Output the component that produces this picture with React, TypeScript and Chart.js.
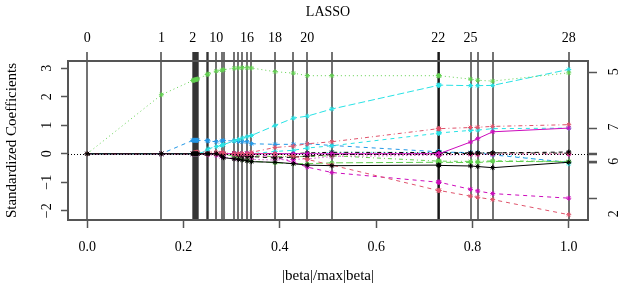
import React, { useEffect, useRef } from "react";
import { Chart, registerables } from "chart.js";
Chart.register(...registerables);

// breakpoints |beta|/max|beta| for steps 0..28
const steps = [0, 0.154, 0.219, 0.221, 0.223, 0.225, 0.227, 0.229, 0.249, 0.251, 0.268, 0.279, 0.283, 0.305, 0.314, 0.322, 0.332, 0.341, 0.39, 0.428, 0.457, 0.508, 0.729, 0.73, 0.731, 0.796, 0.811, 0.842, 1.0];
const shownStepLabels = ["0", "1", "2", "10", "16", "18", "20", "22", "25", "28"];
const xTicks = [0, 0.2, 0.4, 0.6, 0.8, 1.0];
const xTickLabels = ["0.0", "0.2", "0.4", "0.6", "0.8", "1.0"];
const yTicks = [-2, -1, 0, 1, 2, 3];
const yTickLabels = ["\u22122", "\u22121", "0", "1", "2", "3"];
const xMin = -0.04, xMax = 1.04, yMin = -2.327, yMax = 3.256;

// coefficient paths (one value per step)
const v3 = [0, 2.07, 2.57, 2.58, 2.59, 2.6, 2.61, 2.62, 2.78, 2.8, 2.9, 2.93, 2.95, 3.0, 3.01, 3.02, 3.02, 3.01, 2.88, 2.83, 2.74, 2.74, 2.74, 2.74, 2.74, 2.62, 2.58, 2.55, 2.84];
const v5 = [0, 0, 0, 0, 0, 0, 0, 0, 0.1, 0.17, 0.25, 0.29, 0.32, 0.45, 0.5, 0.55, 0.6, 0.64, 0.99, 1.25, 1.32, 1.57, 2.4, 2.4, 2.41, 2.39, 2.39, 2.4, 2.96];
const v22 = [0, 0, 0.47, 0.47, 0.47, 0.47, 0.47, 0.47, 0.46, 0.45, 0.42, 0.45, 0.46, 0.45, 0.43, 0.42, 0.42, 0.35, 0.33, 0.33, 0.35, 0.29, 0.07, 0.07, 0.06, 0.04, 0.03, -0.04, -0.3];
const v2 = [0, 0, 0, 0, 0, 0, 0, 0, 0, 0, 0, 0, 0, 0, 0, 0, 0, 0, 0, -0.08, -0.2, -0.4, -1.29, -1.29, -1.29, -1.49, -1.53, -1.61, -2.14];
const v12 = [0, 0, 0, 0, 0, 0, 0, 0, 0, 0, 0, 0, 0, 0, 0, 0, 0, 0, -0.12, -0.3, -0.47, -0.66, -1.0, -1.0, -1.0, -1.25, -1.31, -1.4, -1.56];
const v14 = [0, 0, 0, 0, 0, 0, 0, 0, 0, 0, 0, 0, 0, 0, 0, 0, 0, 0.05, 0.22, 0.27, 0.35, 0.42, 0.88, 0.88, 0.88, 0.92, 0.93, 0.96, 1.02];
const v17 = [0, 0, 0, 0, 0, 0, 0, 0, 0, 0, 0, 0, 0, 0, 0, 0, 0, 0, 0.08, 0.12, 0.2, 0.28, 0.72, 0.72, 0.73, 0.82, 0.83, 0.88, 0.9];
const v6 = [0, 0, 0, 0, 0, 0, 0, 0, 0, 0, 0, 0, 0, 0, 0, 0, 0, 0, 0, 0, 0, 0, 0, 0, 0, 0.41, 0.53, 0.77, 0.9];
const v1 = [0, 0, 0, 0, 0, 0, 0, 0, 0, 0, 0, -0.08, -0.14, -0.18, -0.2, -0.22, -0.25, -0.28, -0.3, -0.35, -0.4, -0.42, -0.4, -0.4, -0.41, -0.43, -0.45, -0.49, -0.3];
const v15 = [0, 0, 0, 0, 0, 0, 0, 0, 0, 0, 0, 0, 0, -0.1, -0.15, -0.2, -0.22, -0.26, -0.32, -0.35, -0.35, -0.32, -0.3, -0.3, -0.3, -0.31, -0.31, -0.27, -0.28];
const v9 = [0, 0, 0, 0, 0, 0, 0, 0, 0, 0, 0, 0, 0, 0, 0, 0, -0.04, -0.07, -0.1, -0.1, -0.1, -0.07, -0.26, -0.26, -0.26, -0.27, -0.27, -0.25, -0.27];
const v7 = [0, 0, 0, 0, 0, 0, 0, 0, 0, 0, 0, 0, 0, 0, -0.05, -0.08, -0.1, -0.1, -0.15, -0.12, -0.08, -0.03, 0.0, 0.0, 0.01, 0.01, 0.02, 0.03, 0.06];
const v18 = [0, 0, 0, 0, 0, 0, 0, 0, 0, -0.03, -0.06, -0.1, -0.12, -0.15, -0.17, -0.18, -0.2, -0.2, -0.22, -0.2, -0.18, -0.1, -0.05, -0.05, -0.05, -0.03, -0.03, -0.02, -0.02];
const v19 = [0, 0, 0, 0, 0, 0, 0, 0, 0, 0, 0, 0, 0, 0, 0, 0, 0, 0, 0, 0, 0.03, 0.05, 0.04, 0.04, 0.04, 0.03, 0.03, 0.03, 0.02];
const v23 = [0, 0, 0, 0, 0, 0, 0, 0, 0, 0, 0, 0, 0, 0, 0, 0, 0, 0, 0, 0, 0, 0.05, 0.05, 0.05, 0.05, 0.04, 0.04, 0.02, -0.35];
const v8 = [0, 0, 0, 0.02, 0.03, 0.04, 0.05, 0.05, 0.06, 0.06, 0.05, 0.04, 0.03, 0.0, -0.05, -0.07, -0.08, -0.1, -0.12, -0.1, -0.08, -0.05, -0.02, -0.02, -0.02, -0.01, -0.01, 0, 0];

const series = [v1, v2, v3, v5, v6, v7, v8, v9, v12, v14, v15, v17, v18, v19, v22, v23];
const seriesNames = ["1", "2", "3", "5", "6", "7", "8", "9", "12", "14", "15", "17", "18", "19", "22", "23"];
// labels that R kept on the right axis (others dropped for overlap)
const rightLabelFor: Record<string, string> = { "3": "5", "17": "7", "1": "6", "2": "2" };

const BLACK = "#000000", RED = "#DF536B", GREEN = "#61D04F", BLUE = "#2297E6", CYAN = "#28E2E5", MAGENTA = "#CD0BBC";
const SOLID: number[] = [], DASHED = [4, 4], DOTTED = [1, 3], DOTDASH = [1, 3, 4, 3], LONGDASH = [7, 3];
const seriesColors = [BLACK, RED, GREEN, CYAN, MAGENTA, BLACK, RED, GREEN, MAGENTA, RED, GREEN, CYAN, MAGENTA, BLACK, BLUE, CYAN];
const seriesDashes = [SOLID, DASHED, DOTTED, LONGDASH, SOLID, DASHED, DOTTED, DOTDASH, DASHED, DOTDASH, LONGDASH, DASHED, DOTTED, DOTDASH, DASHED, DOTTED];

const FONT = '"Liberation Serif", "DejaVu Serif", serif';

export default function App() {
  const ref = useRef<HTMLCanvasElement | null>(null);
  useEffect(() => {
    if (!ref.current) return;
    const finals = series.map((s) => s[s.length - 1]);
    const textPlugin = {
      id: "rtext",
      afterDatasetsDraw(chart: any) {
        const { ctx, chartArea, scales } = chart;
        ctx.save();
        ctx.strokeStyle = "#000";
        ctx.lineWidth = 1;
        ctx.setLineDash([1, 2]);
        const y0 = Math.round(scales.y.getPixelForValue(0)) + 0.5;
        ctx.beginPath();
        ctx.moveTo(chartArea.left, y0);
        ctx.lineTo(chartArea.right, y0);
        ctx.stroke();
        ctx.restore();
      },
      afterDraw(chart: any) {
        const { ctx, chartArea, scales } = chart;
        ctx.save();
        ctx.fillStyle = "#000";
        ctx.font = "14px " + FONT;
        ctx.textAlign = "center";
        ctx.textBaseline = "middle";
        const rot = (t: string, x: number, y: number) => {
          ctx.save();
          ctx.translate(x, y);
          ctx.rotate(-Math.PI / 2);
          ctx.fillText(t, 0, 0);
          ctx.restore();
        };
        yTicks.forEach((v, i) => rot(yTickLabels[i], chartArea.left - 21, scales.y.getPixelForValue(v)));
        seriesNames.forEach((n, i) => {
          const lab = rightLabelFor[n];
          if (lab) rot(lab, chartArea.right + 26, scales.y2.getPixelForValue(finals[i]) - 1);
        });
        const cx = (chartArea.left + chartArea.right) / 2;
        ctx.fillText("LASSO", cx, 12);
        ctx.font = "15px " + FONT;
        ctx.fillText("|beta|/max|beta|", cx, 276);
        rot("Standardized Coefficients", 12, (chartArea.top + chartArea.bottom) / 2);
        ctx.restore();
      },
    };
    const datasets = series.map((s, i) => ({
      label: seriesNames[i],
      data: s.map((y, k) => ({ x: steps[k], y })),
      borderColor: seriesColors[i],
      backgroundColor: seriesColors[i],
      borderDash: seriesDashes[i],
      borderWidth: 1,
      pointStyle: "star",
      pointRadius: 2.5,
      pointBorderWidth: 1,
      pointBorderColor: seriesColors[i],
      tension: 0,
      xAxisID: "x",
      yAxisID: "y",
    }));
    const tickFont = { family: FONT, size: 14 };
    const BOX = "#555";
    const chart = new Chart(ref.current, {
      type: "line",
      data: { datasets: datasets as any },
      plugins: [textPlugin as any],
      options: {
        animation: false,
        responsive: false,
        devicePixelRatio: 1,
        layout: { padding: 0 },
        plugins: { legend: { display: false }, tooltip: { enabled: false } },
        scales: {
          x: {
            type: "linear",
            position: "bottom",
            min: xMin,
            max: xMax,
            afterBuildTicks: (s: any) => { s.ticks = xTicks.map((v) => ({ value: v })); },
            afterFit: (s: any) => { s.height = 69; },
            ticks: { font: tickFont, color: "#000", autoSkip: false, maxRotation: 0, padding: 11, callback: (_v: any, i: number) => xTickLabels[i] },
            grid: { drawOnChartArea: false, drawTicks: true, tickLength: 8, tickColor: BOX, tickWidth: 1.5 },
            border: { display: true, color: BOX, width: 2 },
          },
          x2: {
            type: "linear",
            position: "top",
            min: xMin,
            max: xMax,
            afterBuildTicks: (s: any) => { s.ticks = steps.map((v) => ({ value: v })); },
            afterFit: (s: any) => { s.height = 61; },
            ticks: {
              font: tickFont, color: "#000", autoSkip: false, maxRotation: 0, padding: 5,
              callback: (_v: any, i: number) => (shownStepLabels.includes(String(i)) ? String(i) : ""),
            },
            grid: { drawOnChartArea: true, drawTicks: true, tickLength: 9, color: "rgba(0,0,0,0.55)", lineWidth: 2, tickColor: "rgba(0,0,0,0.55)", tickWidth: 2 },
            border: { display: true, color: BOX, width: 2 },
          },
          y: {
            type: "linear",
            position: "left",
            min: yMin,
            max: yMax,
            afterBuildTicks: (s: any) => { s.ticks = yTicks.map((v) => ({ value: v })); },
            afterFit: (s: any) => { s.width = 68; },
            ticks: { color: "rgba(0,0,0,0)", font: tickFont },
            grid: { drawOnChartArea: false, drawTicks: true, tickLength: 7, tickColor: BOX, tickWidth: 1.5 },
            border: { display: true, color: BOX, width: 2 },
          },
          y2: {
            type: "linear",
            position: "right",
            min: yMin,
            max: yMax,
            afterBuildTicks: (s: any) => { s.ticks = finals.map((v) => ({ value: v })); },
            afterFit: (s: any) => { s.width = 35; },
            ticks: { color: "rgba(0,0,0,0)", font: tickFont },
            grid: { drawOnChartArea: false, drawTicks: true, tickLength: 9, tickColor: BOX, tickWidth: 1.5 },
            border: { display: true, color: BOX, width: 2 },
          },
        },
      },
    });
    return () => chart.destroy();
  }, []);
  return (
    <div style={{ position: "absolute", left: 0, top: 0, width: 623, height: 289, background: "#fff" }}>
      <canvas ref={ref} width={623} height={289} style={{ display: "block" }} />
    </div>
  );
}
